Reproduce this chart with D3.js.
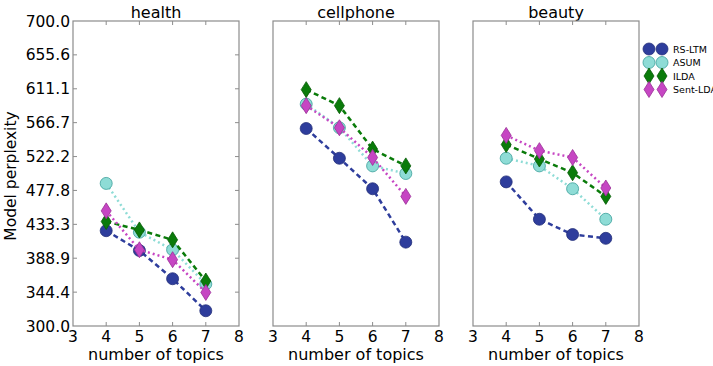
<!DOCTYPE html>
<html lang="en">
<head>
    <meta charset="UTF-8">
    <title>Model perplexity</title>
    <style>
        body { margin: 0; background: #fff; }
        svg text { font-family: "DejaVu Sans", sans-serif; fill: #000; }
        .frame { fill: none; stroke: #8c8c8c; stroke-width: 1.2; }
        .tick { stroke: #8c8c8c; stroke-width: 1; }
    </style>
</head>
<body>
    <div id="workspace"></div>
    <script src="https://cdn.jsdelivr.net/npm/d3@7"></script>
    <script>
        const topics = [4, 5, 6, 7];
        const xTicks = [3, 4, 5, 6, 7, 8];
        const yTicks = [300.0, 344.4, 388.9, 433.3, 477.8, 522.2, 566.7, 611.1, 655.6, 700.0];
        const domains = ["health", "cellphone", "beauty"];
        const methods = ["RS-LTM", "ASUM", "ILDA", "Sent-LDA"];

        // values per domain: health, cellphone, beauty
        const rsLtm = [[425, 399, 362, 320], [559, 520, 480, 410], [489, 440, 420, 415]];
        const asum = [[487, 423, 400, 355], [591, 560, 510, 500], [520, 510, 480, 440]];
        const ilda = [[437, 426, 413, 359], [610, 589, 532, 510], [538, 519, 501, 470]];
        const sentLda = [[451, 400, 387, 344], [589, 560, 521, 470], [550, 530, 521, 481]];

        const series = [
            { name: methods[0], data: rsLtm, shape: "circle", fill: "#2e3d9c", edge: "#24307a", line: "#2e3d9c", dash: "5,3.5" },
            { name: methods[1], data: asum, shape: "circle", fill: "#8edcd6", edge: "#3b9f9b", line: "#8edcd6", dash: "2,3" },
            { name: methods[2], data: ilda, shape: "diamond", fill: "#0a7b0a", edge: "#065c06", line: "#0a7b0a", dash: "5,3.5" },
            { name: methods[3], data: sentLda, shape: "diamond", fill: "#c646c3", edge: "#9a2e97", line: "#c646c3", dash: "2,3" }
        ];

        const W = 713, H = 366;
        const plotTop = 21, plotBottom = 326, pw = 166, firstLeft = 73, step = 200;

        const svg = d3.select("#workspace").append("svg")
            .attr("width", W)
            .attr("height", H);

        const y = d3.scaleLinear().domain([300, 700]).range([plotBottom, plotTop]);

        const diamond = (cx, cy) => `M${cx},${cy - 8}L${cx + 5},${cy}L${cx},${cy + 8}L${cx - 5},${cy}Z`;

        const drawMarker = (g, s, cx, cy) => {
            if (s.shape === "circle") {
                g.append("circle").attr("cx", cx).attr("cy", cy).attr("r", 6)
                    .attr("fill", s.fill).attr("stroke", s.edge).attr("stroke-width", 0.8);
            } else {
                g.append("path").attr("d", diamond(cx, cy))
                    .attr("fill", s.fill).attr("stroke", s.edge).attr("stroke-width", 0.8);
            }
        };

        domains.forEach((name, di) => {
            const left = firstLeft + di * step;
            const x = d3.scaleLinear().domain([3, 8]).range([left, left + pw]);
            const g = svg.append("g");

            // ticks inside on top/bottom
            xTicks.slice(1, -1).forEach(t => {
                g.append("line").attr("class", "tick").attr("x1", x(t)).attr("x2", x(t)).attr("y1", plotBottom).attr("y2", plotBottom - 4);
                g.append("line").attr("class", "tick").attr("x1", x(t)).attr("x2", x(t)).attr("y1", plotTop).attr("y2", plotTop + 4);
            });
            xTicks.forEach(t => {
                g.append("text").attr("x", x(t)).attr("y", 341.5).attr("text-anchor", "middle")
                    .attr("font-size", 15.5).text(t);
            });
            g.append("text").attr("x", left + pw / 2).attr("y", 360).attr("text-anchor", "middle")
                .attr("font-size", 16).text("number of topics");
            g.append("text").attr("x", left + pw / 2).attr("y", 18).attr("text-anchor", "middle")
                .attr("font-size", 16).text(name);

            if (di === 0) {
                yTicks.forEach(t => {
                    if (t > 300 && t < 700) {
                        g.append("line").attr("class", "tick").attr("x1", left).attr("x2", left + 4).attr("y1", y(t)).attr("y2", y(t));
                        g.append("line").attr("class", "tick").attr("x1", left + pw).attr("x2", left + pw - 4).attr("y1", y(t)).attr("y2", y(t));
                    }
                    g.append("text").attr("x", left - 3).attr("y", y(t) + 5.5).attr("text-anchor", "end")
                        .attr("font-size", 15.5).text(t.toFixed(1));
                });
            }

            series.forEach(s => {
                const line = d3.line().x((d, i) => x(topics[i])).y(d => y(d));
                g.append("path").attr("d", line(s.data[di]))
                    .attr("fill", "none").attr("stroke", s.line).attr("stroke-width", 2.5)
                    .attr("stroke-dasharray", s.dash);
                s.data[di].forEach((v, i) => drawMarker(g, s, x(topics[i]), y(v)));
            });

            g.append("rect").attr("class", "frame").attr("x", left).attr("y", plotTop).attr("width", pw).attr("height", plotBottom - plotTop);
        });

        svg.append("text").attr("transform", "translate(16, 176) rotate(-90)")
            .attr("text-anchor", "middle").attr("font-size", 15.5).text("Model perplexity");

        // legend
        const legend = svg.append("g");
        series.forEach((s, i) => {
            const ly = 49 + i * 13.5;
            drawMarker(legend, s, 649, ly);
            drawMarker(legend, s, 662, ly);
            legend.append("text").attr("x", 673).attr("y", ly + 3.5).attr("font-size", 9.5).text(s.name);
        });
    </script>
</body>
</html>
